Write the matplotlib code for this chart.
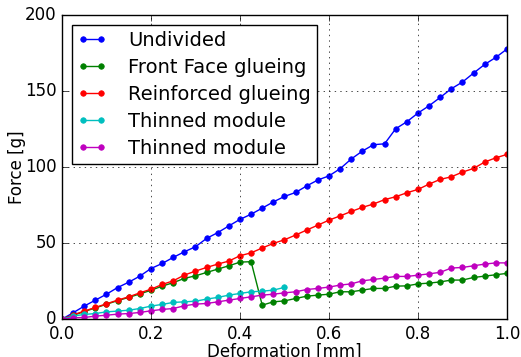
import matplotlib
matplotlib.use("Agg")
import matplotlib.pyplot as plt

plt.style.use('classic')

# deformation steps [mm]
x_full = [0.0, 0.025, 0.05, 0.075, 0.1, 0.125, 0.15, 0.175, 0.2, 0.225,
          0.25, 0.275, 0.3, 0.325, 0.35, 0.375, 0.4, 0.425, 0.45, 0.475,
          0.5, 0.525, 0.55, 0.575, 0.6, 0.625, 0.65, 0.675, 0.7, 0.725,
          0.75, 0.775, 0.8, 0.825, 0.85, 0.875, 0.9, 0.925, 0.95, 0.975, 1.0]
x_thin = x_full[:21]

# force [g]
undivided = [0, 4.2, 8.6, 12.5, 16.4, 20.8, 24.3, 28.3, 33.3, 36.6,
             40.6, 44.3, 47.6, 53.1, 56.9, 61.3, 65.6, 69.0, 73.0, 77.1,
             80.7, 83.3, 87.6, 91.5, 94.2, 98.9, 105.3, 110.5, 114.7, 115.3,
             125.2, 129.8, 135.5, 140.3, 145.8, 151.5, 155.9, 161.8, 167.5, 172.1, 177.6]
front_face = [0, 2.5, 5.0, 7.4, 9.8, 12.2, 14.3, 16.6, 19.0, 21.7,
              24.0, 26.8, 28.5, 30.7, 32.9, 35.1, 37.5, 37.8, 9.2, 11.4,
              12.0, 13.6, 15.1, 15.8, 16.4, 18.0, 18.0, 19.1, 20.2, 20.2,
              21.7, 21.9, 23.2, 23.7, 24.5, 25.7, 25.7, 27.4, 28.3, 29.2, 30.1]
reinforced = [0, 2.8, 5.3, 7.7, 10.1, 12.5, 14.7, 17.3, 19.7, 22.8,
              25.2, 29.0, 31.6, 34.0, 36.2, 38.2, 41.7, 43.6, 46.8, 49.8,
              52.2, 55.3, 58.6, 61.8, 65.1, 67.9, 70.8, 73.5, 75.7, 78.6,
              80.5, 83.1, 85.3, 88.8, 91.9, 93.6, 96.7, 99.1, 103.3, 106.1, 108.3]
thinned_1 = [0, 2.0, 3.1, 3.7, 4.8, 5.3, 5.9, 7.0, 8.6, 9.7,
             11.0, 11.4, 11.8, 13.2, 14.3, 15.8, 16.9, 18.0, 18.4, 19.1, 20.9]
thinned_2 = [0, 0.9, 1.1, 2.0, 2.6, 3.3, 3.7, 4.4, 5.5, 6.4,
             7.0, 8.8, 9.9, 10.3, 11.4, 12.5, 13.6, 14.7, 15.8, 16.4,
             17.3, 18.0, 19.5, 20.2, 21.1, 22.4, 23.2, 25.2, 26.1, 27.0,
             28.1, 28.1, 28.9, 29.8, 30.8, 33.6, 34.0, 35.1, 36.2, 37.0, 37.0]

fig = plt.figure(figsize=(5.21, 3.57), dpi=100, facecolor='white')
ax = fig.add_axes([0.119, 0.106, 0.854, 0.852])

ms = 4
series = [
    (x_full, undivided, 'b', 'Undivided'),
    (x_full, front_face, 'g', 'Front Face glueing'),
    (x_full, reinforced, 'r', 'Reinforced glueing'),
    (x_thin, thinned_1, 'c', 'Thinned module'),
    (x_full, thinned_2, 'm', 'Thinned module'),
]
for xs, ys, c, lab in series:
    ax.plot(xs, ys, color=c, marker='o', ms=ms, mec=c, mfc=c, mew=0.5,
            lw=1, label=lab)

ax.set_xlim(0, 1.0)
ax.set_ylim(0, 200)
ax.set_xticks([0.0, 0.2, 0.4, 0.6, 0.8, 1.0])
ax.set_yticks([0, 50, 100, 150, 200])
ax.tick_params(labelsize=12)
ax.set_xlabel('Deformation [mm]', fontsize=12, labelpad=0)
ax.set_ylabel('Force [g]', fontsize=12, labelpad=-1)
ax.grid(True)

ax.legend(loc='upper left', fontsize=14, numpoints=2, handlelength=1.5,
          handletextpad=1.1, borderpad=0.3, labelspacing=0.42)

fig.savefig('out.png', dpi=100, facecolor='white')
